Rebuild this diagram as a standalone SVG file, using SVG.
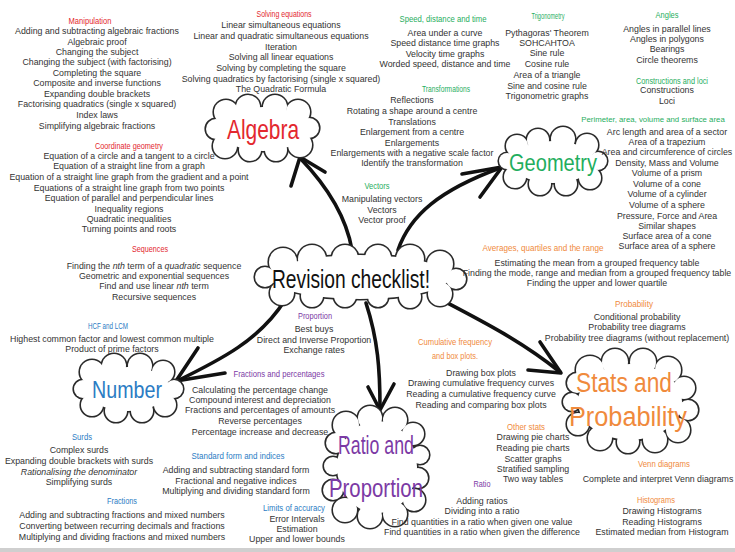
<svg xmlns="http://www.w3.org/2000/svg" xmlns:xlink="http://www.w3.org/1999/xlink" width="735" height="552" viewBox="0 0 735 552">
<defs>
<style>
.t{font-family:"Liberation Sans",Arial,sans-serif;font-size:8.8px;fill:#333;text-anchor:middle}
.h{font-family:"Liberation Sans Narrow","Liberation Sans",sans-serif;font-size:9px;text-anchor:middle}
.big{font-family:"Liberation Sans Narrow","Liberation Sans",sans-serif;text-anchor:middle}
.red{fill:#e3282f}.grn{fill:#1fae5e}.blu{fill:#2b7cc4}.pur{fill:#7c3aa5}.org{fill:#f08a3c}
.co{fill:#fff;stroke:#2a2a2a;stroke-width:3.2}
.cf{fill:#fff;stroke:none}
.ar{fill:none;stroke:#111;stroke-width:3.6;stroke-linecap:round;stroke-linejoin:round}
</style>
<g id="sh-alg"><ellipse cx="263" cy="129" rx="44" ry="22"/><circle cx="226" cy="112" r="12"/><circle cx="248" cy="107" r="12"/><circle cx="275" cy="107" r="12"/><circle cx="298" cy="112" r="12"/><circle cx="309" cy="128" r="10"/><circle cx="300" cy="145" r="12"/><circle cx="276" cy="150" r="11"/><circle cx="250" cy="150" r="11"/><circle cx="225" cy="146" r="12"/><circle cx="216" cy="129" r="10"/></g>
<g id="sh-geo"><ellipse cx="553" cy="162" rx="42" ry="21"/><circle cx="517" cy="146" r="11"/><circle cx="538" cy="140" r="11"/><circle cx="563" cy="139" r="12"/><circle cx="587" cy="145" r="11"/><circle cx="598" cy="161" r="9"/><circle cx="590" cy="178" r="11"/><circle cx="566" cy="184" r="11"/><circle cx="540" cy="184" r="11"/><circle cx="515" cy="177" r="11"/><circle cx="507" cy="161" r="8"/></g>
<g id="sh-rev"><ellipse cx="360" cy="277" rx="90" ry="22"/><circle cx="283" cy="262" r="14"/><circle cx="312" cy="259" r="14"/><circle cx="345" cy="258" r="13"/><circle cx="378" cy="258" r="13"/><circle cx="410" cy="259" r="14"/><circle cx="440" cy="264" r="13"/><circle cx="456" cy="279" r="10"/><circle cx="440" cy="294" r="12"/><circle cx="410" cy="297" r="11"/><circle cx="378" cy="297" r="10"/><circle cx="345" cy="296" r="11"/><circle cx="312" cy="296" r="11"/><circle cx="282" cy="293" r="12"/><circle cx="265" cy="277" r="10"/></g>
<g id="sh-num"><ellipse cx="128" cy="389" rx="42" ry="22"/><circle cx="92" cy="372" r="12"/><circle cx="114" cy="366" r="12"/><circle cx="140" cy="366" r="12"/><circle cx="163" cy="372" r="11"/><circle cx="174" cy="389" r="9"/><circle cx="165" cy="405" r="11"/><circle cx="142" cy="411" r="11"/><circle cx="116" cy="411" r="11"/><circle cx="92" cy="405" r="11"/><circle cx="83" cy="389" r="9"/></g>
<g id="sh-rat"><ellipse cx="377" cy="467" rx="40" ry="46"/><circle cx="346" cy="425" r="13"/><circle cx="370" cy="418" r="12"/><circle cx="395" cy="420" r="12"/><circle cx="413" cy="434" r="11"/><circle cx="420" cy="455" r="9"/><circle cx="418" cy="478" r="10"/><circle cx="414" cy="500" r="11"/><circle cx="395" cy="514" r="12"/><circle cx="370" cy="516" r="12"/><circle cx="345" cy="510" r="12"/><circle cx="333" cy="490" r="10"/><circle cx="333" cy="466" r="9"/><circle cx="336" cy="443" r="10"/></g>
<g id="sh-sta"><ellipse cx="630" cy="402" rx="52" ry="38"/><circle cx="590" cy="370" r="14"/><circle cx="615" cy="362" r="13"/><circle cx="643" cy="362" r="13"/><circle cx="668" cy="370" r="13"/><circle cx="684" cy="388" r="11"/><circle cx="688" cy="410" r="10"/><circle cx="678" cy="430" r="12"/><circle cx="655" cy="440" r="12"/><circle cx="628" cy="442" r="11"/><circle cx="600" cy="438" r="12"/><circle cx="578" cy="424" r="11"/><circle cx="572" cy="402" r="9"/><circle cx="577" cy="383" r="10"/></g>
</defs>
<rect width="735" height="552" fill="#fff"/>
<rect x="0" y="548" width="735" height="4" fill="#cfcfcf"/>

<g id="connectors">
<path class="ar" d="M352,250 C346,215 326,185 300,158"/><path class="ar" d="M325,172 L300,157 L291,186"/>
<path class="ar" d="M398,250 C410,215 440,190 500,168"/><path class="ar" d="M462,174 L502,167 L480,197"/>
<path class="ar" d="M285,300 C260,340 220,360 177,381"/><path class="ar" d="M198,348 L176,381 L225,373"/>
<path class="ar" d="M366,303 C378,340 380,370 380,408"/><path class="ar" d="M368,387 L380,410 L394,384"/>
<path class="ar" d="M438,298 C480,320 520,340 560,372"/><path class="ar" d="M540,342 L561,373 L528,370"/>
</g>

<g id="node-revision"><use href="#sh-rev" class="co"/><use href="#sh-rev" class="cf"/><text class="big" x="351" y="288" font-size="25" textLength="158" lengthAdjust="spacingAndGlyphs" fill="#111">Revision checklist!</text></g>
<g id="node-algebra"><use href="#sh-alg" class="co"/><use href="#sh-alg" class="cf"/><text class="big red" x="263" y="139" font-size="28" textLength="72" lengthAdjust="spacingAndGlyphs">Algebra</text></g>
<g id="node-geometry"><use href="#sh-geo" class="co"/><use href="#sh-geo" class="cf"/><text class="big grn" x="553" y="171" font-size="23" textLength="88" lengthAdjust="spacingAndGlyphs">Geometry</text></g>
<g id="node-number"><use href="#sh-num" class="co"/><use href="#sh-num" class="cf"/><text class="big blu" x="127" y="398" font-size="24" textLength="70" lengthAdjust="spacingAndGlyphs">Number</text></g>
<g id="node-ratio"><use href="#sh-rat" class="co"/><use href="#sh-rat" class="cf"/><text class="big pur" x="376" y="454" font-size="25" textLength="76" lengthAdjust="spacingAndGlyphs">Ratio and</text><text class="big pur" x="376" y="497" font-size="25" textLength="94" lengthAdjust="spacingAndGlyphs">Proportion</text></g>
<g id="node-stats"><use href="#sh-sta" class="co"/><use href="#sh-sta" class="cf"/><text class="big org" x="624" y="392" font-size="27" textLength="96" lengthAdjust="spacingAndGlyphs">Stats and</text><text class="big org" x="628" y="426" font-size="27" textLength="118" lengthAdjust="spacingAndGlyphs">Probability</text></g>

<g id="t-manipulation">
<text class="h red" x="90" y="23.5" textLength="43" lengthAdjust="spacingAndGlyphs">Manipulation</text>
<text class="t" x="97" y="34">Adding and subtracting algebraic fractions</text>
<text class="t" x="97" y="45">Algebraic proof</text>
<text class="t" x="97" y="55">Changing the subject</text>
<text class="t" x="97" y="65">Changing the subject (with factorising)</text>
<text class="t" x="97" y="76">Completing the square</text>
<text class="t" x="97" y="86">Composite and inverse functions</text>
<text class="t" x="97" y="97">Expanding double brackets</text>
<text class="t" x="97" y="107">Factorising quadratics (single x squared)</text>
<text class="t" x="97" y="118">Index laws</text>
<text class="t" x="97" y="129">Simplifying algebraic fractions</text>
</g>
<g id="t-solving">
<text class="h red" x="284" y="16.5" textLength="55" lengthAdjust="spacingAndGlyphs">Solving equations</text>
<text class="t" x="281" y="28">Linear simultaneous equations</text>
<text class="t" x="281" y="39">Linear and quadratic simultaneous equations</text>
<text class="t" x="281" y="50">Iteration</text>
<text class="t" x="281" y="60">Solving all linear equations</text>
<text class="t" x="281" y="71">Solving by completing the square</text>
<text class="t" x="281" y="82">Solving quadratics by factorising (single x squared)</text>
<text class="t" x="281" y="92">The Quadratic Formula</text>
</g>
<g id="t-speed">
<text class="h grn" x="443" y="21.5" textLength="87" lengthAdjust="spacingAndGlyphs">Speed, distance and time</text>
<text class="t" x="445" y="36">Area under a curve</text>
<text class="t" x="445" y="46">Speed distance time graphs</text>
<text class="t" x="445" y="57">Velocity time graphs</text>
<text class="t" x="445" y="67">Worded speed, distance and time</text>
</g>
<g id="t-trig">
<text class="h grn" x="548" y="18.5" textLength="33" lengthAdjust="spacingAndGlyphs">Trigonometry</text>
<text class="t" x="547" y="36">Pythagoras' Theorem</text>
<text class="t" x="547" y="46">SOHCAHTOA</text>
<text class="t" x="547" y="56">Sine rule</text>
<text class="t" x="547" y="67">Cosine rule</text>
<text class="t" x="547" y="78">Area of a triangle</text>
<text class="t" x="547" y="89">Sine and cosine rule</text>
<text class="t" x="547" y="99">Trigonometric graphs</text>
</g>
<g id="t-angles">
<text class="h grn" x="667" y="17.5" textLength="23" lengthAdjust="spacingAndGlyphs">Angles</text>
<text class="t" x="667" y="32">Angles in parallel lines</text>
<text class="t" x="667" y="42">Angles in polygons</text>
<text class="t" x="667" y="52">Bearings</text>
<text class="t" x="667" y="63">Circle theorems</text>
</g>
<g id="t-constructions">
<text class="h grn" x="672" y="83.5" textLength="72" lengthAdjust="spacingAndGlyphs">Constructions and loci</text>
<text class="t" x="667" y="93">Constructions</text>
<text class="t" x="667" y="104">Loci</text>
</g>
<g id="t-perimeter">
<text class="grn" x="653" y="121.5" font-family="Liberation Sans, Arial, sans-serif" font-size="7.8" text-anchor="middle">Perimeter, area, volume and surface area</text>
<text class="t" x="667" y="135">Arc length and area of a sector</text>
<text class="t" x="667" y="145">Area of a trapezium</text>
<text class="t" x="667" y="155">Area and circumference of circles</text>
<text class="t" x="667" y="166">Density, Mass and Volume</text>
<text class="t" x="667" y="176">Volume of a prism</text>
<text class="t" x="667" y="187">Volume of a cone</text>
<text class="t" x="667" y="197">Volume of a cylinder</text>
<text class="t" x="667" y="208">Volume of a sphere</text>
<text class="t" x="667" y="219">Pressure, Force and Area</text>
<text class="t" x="667" y="229">Similar shapes</text>
<text class="t" x="667" y="239">Surface area of a cone</text>
<text class="t" x="667" y="249">Surface area of a sphere</text>
</g>
<g id="t-transformations">
<text class="h grn" x="446" y="91.5" textLength="48" lengthAdjust="spacingAndGlyphs">Transformations</text>
<text class="t" x="412" y="103">Reflections</text>
<text class="t" x="412" y="114">Rotating a shape around a centre</text>
<text class="t" x="412" y="125">Translations</text>
<text class="t" x="412" y="135">Enlargement from a centre</text>
<text class="t" x="412" y="146">Enlargements</text>
<text class="t" x="412" y="156">Enlargements with a negative scale factor</text>
<text class="t" x="412" y="166">Identify the transformation</text>
</g>
<g id="t-vectors">
<text class="h grn" x="377" y="188.5" textLength="25" lengthAdjust="spacingAndGlyphs">Vectors</text>
<text class="t" x="382" y="202">Manipulating vectors</text>
<text class="t" x="382" y="213">Vectors</text>
<text class="t" x="382" y="223">Vector proof</text>
</g>
<g id="t-coordinate">
<text class="h red" x="129" y="148.5" textLength="68" lengthAdjust="spacingAndGlyphs">Coordinate geometry</text>
<text class="t" x="129" y="159">Equation of a circle and a tangent to a circle</text>
<text class="t" x="129" y="169">Equation of a straight line from a graph</text>
<text class="t" x="129" y="180">Equation of a straight line graph from the gradient and a point</text>
<text class="t" x="129" y="191">Equations of a straight line graph from two points</text>
<text class="t" x="129" y="201">Equation of parallel and perpendicular lines</text>
<text class="t" x="129" y="212">Inequality regions</text>
<text class="t" x="129" y="222">Quadratic inequalities</text>
<text class="t" x="129" y="232">Turning points and roots</text>
</g>
<g id="t-sequences">
<text class="h red" x="150" y="251.5" textLength="36" lengthAdjust="spacingAndGlyphs">Sequences</text>
<text class="t" x="154" y="269">Finding the <tspan font-style="italic">nth</tspan> term of a <tspan font-style="italic">quadratic</tspan> sequence</text>
<text class="t" x="154" y="279">Geometric and exponential sequences</text>
<text class="t" x="154" y="289">Find and use linear <tspan font-style="italic">nth</tspan> term</text>
<text class="t" x="154" y="300">Recursive sequences</text>
</g>
<g id="t-hcf">
<text class="h blu" x="108" y="328.5" textLength="40" lengthAdjust="spacingAndGlyphs">HCF and LCM</text>
<text class="t" x="112" y="342">Highest common factor and lowest common multiple</text>
<text class="t" x="112" y="352">Product of prime factors</text>
</g>
<g id="t-proportion">
<text class="h pur" x="315" y="318.5" textLength="34" lengthAdjust="spacingAndGlyphs">Proportion</text>
<text class="t" x="314" y="332">Best buys</text>
<text class="t" x="314" y="343">Direct and Inverse Proportion</text>
<text class="t" x="314" y="353">Exchange rates</text>
</g>
<g id="t-fracpct">
<text class="h pur" x="279" y="376.5" textLength="91" lengthAdjust="spacingAndGlyphs">Fractions and percentages</text>
<text class="t" x="260" y="393">Calculating the percentage change</text>
<text class="t" x="260" y="403">Compound interest and depreciation</text>
<text class="t" x="260" y="413">Fractions and percentages of amounts</text>
<text class="t" x="260" y="424">Reverse percentages</text>
<text class="t" x="260" y="435">Percentage increase and decrease</text>
</g>
<g id="t-standard">
<text class="h blu" x="238" y="458.5" textLength="93" lengthAdjust="spacingAndGlyphs">Standard form and indices</text>
<text class="t" x="236" y="473">Adding and subtracting standard form</text>
<text class="t" x="236" y="484">Fractional and negative indices</text>
<text class="t" x="236" y="494">Multiplying and dividing standard form</text>
</g>
<g id="t-limits">
<text class="h blu" x="294" y="510.5" textLength="62" lengthAdjust="spacingAndGlyphs">Limits of accuracy</text>
<text class="t" x="297" y="522">Error Intervals</text>
<text class="t" x="297" y="532">Estimation</text>
<text class="t" x="297" y="542">Upper and lower bounds</text>
</g>
<g id="t-surds">
<text class="h blu" x="82" y="439.5" textLength="20" lengthAdjust="spacingAndGlyphs">Surds</text>
<text class="t" x="79" y="453">Complex surds</text>
<text class="t" x="79" y="464">Expanding double brackets with surds</text>
<text class="t" x="79" y="475" font-style="italic">Rationalising the denominator</text>
<text class="t" x="79" y="485">Simplifying surds</text>
</g>
<g id="t-fractions">
<text class="h blu" x="122" y="503.5" textLength="30" lengthAdjust="spacingAndGlyphs">Fractions</text>
<text class="t" x="122" y="518">Adding and subtracting fractions and mixed numbers</text>
<text class="t" x="122" y="529">Converting between recurring decimals and fractions</text>
<text class="t" x="122" y="540">Multiplying and dividing fractions and mixed numbers</text>
</g>
<g id="t-averages">
<text class="h org" x="543" y="250.5" font-size="8.5" textLength="121" lengthAdjust="spacingAndGlyphs">Averages, quartiles and the range</text>
<text class="t" x="597" y="266">Estimating the mean from a grouped frequency table</text>
<text class="t" x="597" y="276">Finding the mode, range and median from a grouped frequency table</text>
<text class="t" x="597" y="286">Finding the upper and lower quartile</text>
</g>
<g id="t-probability">
<text class="h org" x="634" y="306.5" textLength="38" lengthAdjust="spacingAndGlyphs">Probability</text>
<text class="t" x="637" y="320">Conditional probability</text>
<text class="t" x="637" y="330">Probability tree diagrams</text>
<text class="t" x="637" y="341">Probability tree diagrams (without replacement)</text>
</g>
<g id="t-cumulative">
<text class="h org" x="455" y="344.5" textLength="74" lengthAdjust="spacingAndGlyphs">Cumulative frequency</text>
<text class="h org" x="455" y="358.5" textLength="46" lengthAdjust="spacingAndGlyphs">and box plots.</text>
<text class="t" x="481" y="376">Drawing box plots</text>
<text class="t" x="481" y="386">Drawing cumulative frequency curves</text>
<text class="t" x="481" y="397">Reading a cumulative frequency curve</text>
<text class="t" x="481" y="408">Reading and comparing box plots</text>
</g>
<g id="t-other">
<text class="h org" x="526" y="429.5" textLength="38" lengthAdjust="spacingAndGlyphs">Other stats</text>
<text class="t" x="533" y="440">Drawing pie charts</text>
<text class="t" x="533" y="451">Reading pie charts</text>
<text class="t" x="533" y="462">Scatter graphs</text>
<text class="t" x="533" y="472">Stratified sampling</text>
<text class="t" x="533" y="482">Two way tables</text>
</g>
<g id="t-ratio">
<text class="h pur" x="482" y="486.5" textLength="17" lengthAdjust="spacingAndGlyphs">Ratio</text>
<text class="t" x="482" y="504">Adding ratios</text>
<text class="t" x="482" y="514">Dividing into a ratio</text>
<text class="t" x="482" y="525">Find quantities in a ratio when given one value</text>
<text class="t" x="482" y="535">Find quantities in a ratio when given the difference</text>
</g>
<g id="t-venn">
<text class="h org" x="664" y="466.5" textLength="52" lengthAdjust="spacingAndGlyphs">Venn diagrams</text>
<text class="t" x="658" y="482">Complete and interpret Venn diagrams</text>
</g>
<g id="t-histograms">
<text class="h org" x="656" y="502.5" textLength="38" lengthAdjust="spacingAndGlyphs">Histograms</text>
<text class="t" x="662" y="514">Drawing Histograms</text>
<text class="t" x="662" y="525">Reading Histograms</text>
<text class="t" x="662" y="535">Estimated median from Histogram</text>
</g>
</svg>
